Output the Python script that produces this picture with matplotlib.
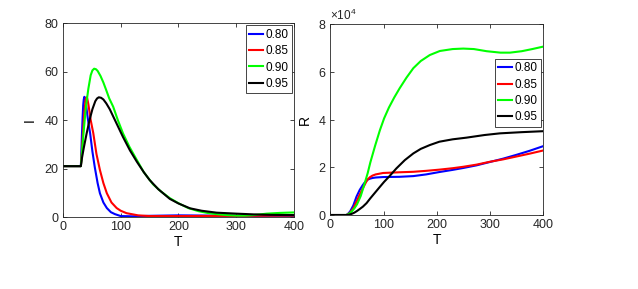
import matplotlib
matplotlib.use("Agg")
import matplotlib.pyplot as plt
from matplotlib.ticker import ScalarFormatter
import numpy as np

plt.rcParams['font.family'] = ['Liberation Sans', 'DejaVu Sans']
plt.rcParams['mathtext.fontset'] = 'custom'
plt.rcParams['mathtext.rm'] = 'Liberation Sans'

labels = ['0.80', '0.85', '0.90', '0.95']
colors = ['#0000ff', '#ff0000', '#00ff00', '#000000']

# infected I(T)
t_i_080 = [0, 31, 32, 33, 34, 35, 36, 37, 38, 40, 42, 44, 47, 51, 55, 60, 64, 70, 76, 83, 90, 100, 120, 150, 200, 250, 300, 350, 400]
i_080 = [21, 21, 28, 35, 41, 46, 48.5, 49.6, 49.3, 46.5, 42.5, 39, 34.6, 27, 20.7, 14, 9.8, 6, 3.7, 2, 1.2, 0.4, 0.3, 0.5, 0.7, 0.6, 0.5, 0.5, 0.5]
t_i_085 = [0, 31, 33, 35, 37, 39, 40, 41, 42, 44, 46, 48, 52.5, 58, 64, 70, 76, 84, 93, 100, 110, 130, 150, 200, 300, 400]
i_085 = [21, 21, 28, 36, 43, 48, 49, 49.4, 49, 46.5, 43.3, 40, 34.6, 26, 19.4, 14, 9.8, 6, 3.7, 2.6, 1.6, 0.7, 0.4, 0.4, 0.5, 0.6]
t_i_090 = [0, 31, 33, 35, 38, 40, 44, 48, 51, 54, 57, 60, 65, 70, 75, 80, 87, 95, 104, 115, 128, 140, 156, 170, 185, 200, 217, 235, 250, 266, 285, 300, 315, 330, 353, 375, 400]
i_090 = [21, 21, 27, 33, 41, 46, 53, 58.5, 60.5, 61.2, 61, 60.3, 58.2, 55.5, 52.3, 49, 45.5, 40, 34.5, 29, 23.5, 18.5, 13.5, 10.5, 7.8, 5.7, 3.7, 2.4, 1.7, 1.2, 0.8, 0.6, 0.6, 0.8, 1.4, 1.7, 1.9]
t_i_095 = [0, 31, 33, 36, 41, 46, 51, 56, 59, 62, 66, 70, 75, 81, 86, 92, 98, 104, 116, 128, 140, 150, 165, 185, 200, 220, 240, 266, 300, 330, 360, 400]
i_095 = [21, 21, 24.5, 28.5, 34.5, 40, 44.5, 47.8, 48.9, 49.4, 49.2, 48.5, 46.9, 44.5, 42, 39, 36, 33, 27.5, 22.8, 18.5, 15.3, 11.5, 7.5, 5.6, 3.6, 2.6, 1.8, 1.4, 1.1, 0.9, 0.8]

# recovered R(T) in units of 1e4
t_r_080 = [0, 30, 33, 37, 43, 49, 55, 61, 64, 67, 70, 74, 79, 85, 99, 130, 156, 180, 205, 230, 250, 275, 300, 325, 350, 375, 400]
r_080 = [0, 0, 0.05, 0.15, 0.4, 0.77, 1.05, 1.26, 1.35, 1.42, 1.48, 1.52, 1.55, 1.57, 1.59, 1.6, 1.63, 1.7, 1.8, 1.89, 1.97, 2.08, 2.22, 2.36, 2.52, 2.69, 2.88]
t_r_085 = [0, 30, 33, 37, 43, 49, 55, 61, 64, 67, 70, 74, 79, 85, 99, 130, 156, 180, 205, 230, 250, 275, 300, 325, 350, 375, 400]
r_085 = [0, 0, 0.03, 0.1, 0.28, 0.56, 0.85, 1.12, 1.25, 1.38, 1.49, 1.58, 1.65, 1.7, 1.76, 1.79, 1.81, 1.85, 1.9, 1.96, 2.02, 2.11, 2.23, 2.33, 2.45, 2.57, 2.7]
t_r_090 = [0, 30, 35, 40, 45, 50, 57, 64, 70, 75, 84, 93, 101, 110, 120, 130, 143, 156, 170, 187, 206, 230, 250, 270, 294, 320, 338, 360, 380, 400]
r_090 = [0, 0, 0.05, 0.15, 0.28, 0.45, 0.8, 1.3, 1.75, 2.2, 2.9, 3.55, 4.05, 4.5, 4.92, 5.3, 5.75, 6.15, 6.45, 6.7, 6.87, 6.95, 6.97, 6.95, 6.86, 6.8, 6.8, 6.86, 6.95, 7.05]
t_r_095 = [0, 30, 35, 40, 45, 50, 55, 61, 68, 75, 84, 93, 101, 110, 124, 140, 156, 170, 187, 205, 230, 256, 290, 319, 360, 400]
r_095 = [0, 0, 0.01, 0.05, 0.1, 0.17, 0.25, 0.35, 0.5, 0.7, 0.94, 1.18, 1.39, 1.6, 1.95, 2.3, 2.58, 2.77, 2.93, 3.07, 3.17, 3.24, 3.35, 3.42, 3.47, 3.51]

i_series = [(t_i_080, i_080), (t_i_085, i_085), (t_i_090, i_090), (t_i_095, i_095)]
r_series = [(t_r_080, r_080), (t_r_085, r_085), (t_r_090, r_090), (t_r_095, r_095)]

fig = plt.figure(figsize=(6.38, 2.89), dpi=100)
ax1 = fig.add_axes([0.0987, 0.249, 0.362, 0.671])
ax2 = fig.add_axes([0.518, 0.256, 0.333, 0.661])

for (t, v), c, lab in zip(i_series, colors, labels):
    ax1.plot(t, v, color=c, lw=1.5, label=lab)
for (t, v), c, lab in zip(r_series, colors, labels):
    ax2.plot(t, np.array(v) * 1e4, color=c, lw=1.5, label=lab)

ax1.set_xlim(0, 400)
ax1.set_ylim(0, 80)
ax1.set_xticks([0, 100, 200, 300, 400])
ax1.set_yticks([0, 20, 40, 60, 80])
ax1.set_xlabel('T', fontsize=10, labelpad=1)
ax1.set_ylabel('I', fontsize=10, labelpad=6)

ax2.set_xlim(0, 400)
ax2.set_ylim(0, 8e4)
ax2.set_xticks([0, 100, 200, 300, 400])
ax2.set_yticks([0, 2e4, 4e4, 6e4, 8e4])
fmt = ScalarFormatter(useMathText=True)
fmt.set_powerlimits((0, 0))
ax2.yaxis.set_major_formatter(fmt)
ax2.set_xlabel('T', fontsize=10, labelpad=1)
ax2.set_ylabel('R', fontsize=10, labelpad=4)

for ax in (ax1, ax2):
    ax.tick_params(direction='in', length=3, width=0.6, labelsize=9,
                   top=True, right=True, colors='#262626', pad=3)
    for s in ax.spines.values():
        s.set_color('#262626')
        s.set_linewidth(0.6)
ax2.yaxis.get_offset_text().set_fontsize(8.5)
ax2.yaxis.get_offset_text().set_color('#262626')

leg_kw = dict(fontsize=8.5, handlelength=1.2, handletextpad=0.15, borderpad=0.3,
              labelspacing=0.36, borderaxespad=0.2, fancybox=False, framealpha=1)
l1 = ax1.legend(loc='upper right', **leg_kw)
l2 = ax2.legend(loc='center right', bbox_to_anchor=(1.0, 0.64), **leg_kw)
for l in (l1, l2):
    l.get_frame().set_edgecolor('#262626')
    l.get_frame().set_linewidth(0.6)

fig.savefig('out.png', dpi=100)
